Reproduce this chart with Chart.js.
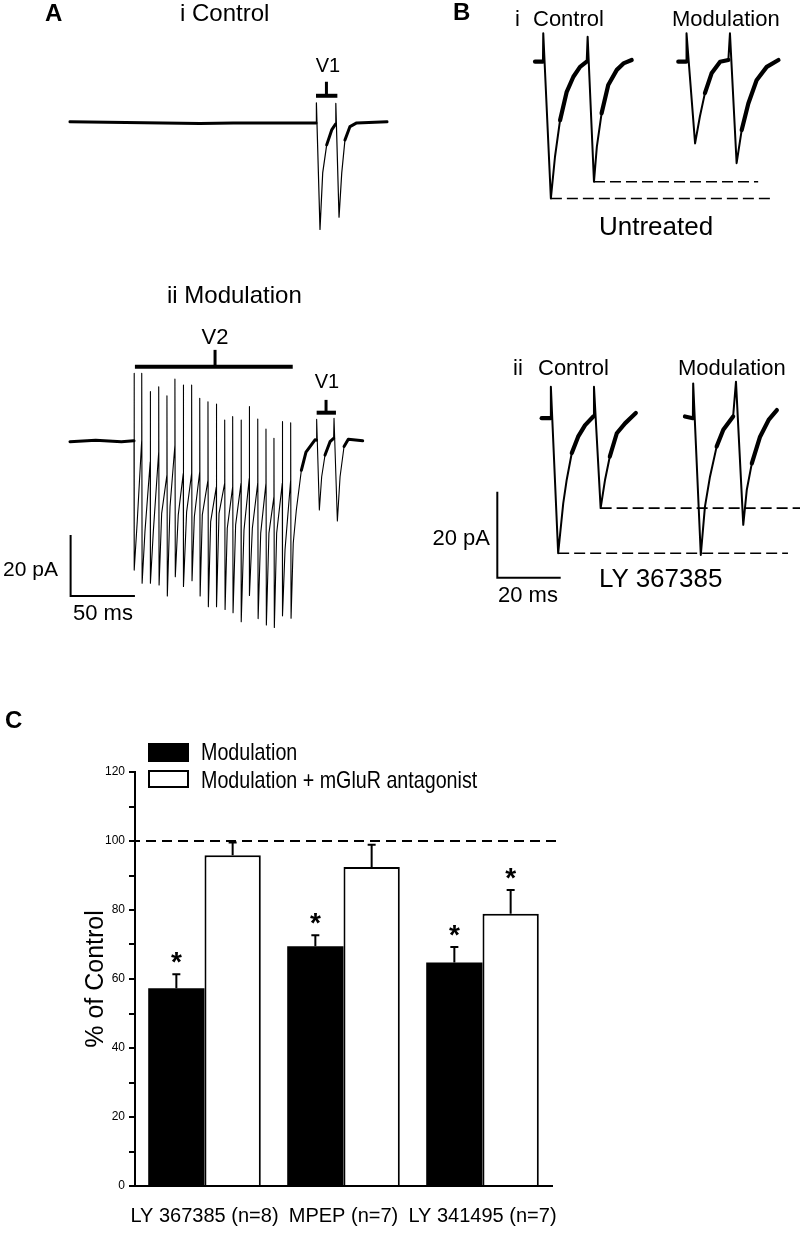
<!DOCTYPE html>
<html>
<head>
<meta charset="utf-8">
<script src="https://cdn.jsdelivr.net/npm/chart.js@4.4.1/dist/chart.umd.min.js"></script>
<style>
  html, body { margin: 0; padding: 0; background: #fff; }
  #fig { position: relative; width: 800px; height: 1233px; overflow: hidden; font-family: "Liberation Sans", Arial, sans-serif; color: #000; }
  #fig canvas { position: absolute; }
  .t { position: absolute; white-space: nowrap; line-height: 1; }
  .box { position: absolute; box-sizing: border-box; }
</style>
</head>
<body>
<div id="fig">
  <canvas id="chartA" width="400" height="650" style="left:0;top:0"></canvas>
  <canvas id="chartB" width="400" height="650" style="left:400px;top:0"></canvas>
  <canvas id="chartC" width="800" height="543" style="left:0;top:690px"></canvas>
  <div class="box" style="left:148px;top:743px;width:41px;height:19px;background:#000"></div>
  <div class="box" style="left:148px;top:770px;width:41px;height:18px;border:2px solid #000;background:#fff"></div>
</div>
<script>
// ---------- Panel A (ms, pA) ----------
// A i: control, two V1 stimuli
const aiTime    = [0, 101, 127, 179, 191.3, 191.6, 194.4, 196.5, 199.6, 203.5, 206.5, 206.7, 209.2, 211.3, 213.8, 217.7, 222.9, 246.5];
const aiCurrent = [0.1, -0.5, -0.3, -0.3, -0.3, 6.3, -35.2, -16.7, -7.5, -2.6, -0.7, 6.1, -31.2, -16.7, -5.9, -1.5, -0.3, 0.1];

// A ii: V2 train followed by V1 pair
const a2PreTime    = [0, 20, 40, 49.5];
const a2PreCurrent = [0, 0.5, 0, 0.3];
const trainStim    = [49.8, 55.8, 62.4, 69.0, 75.4, 81.6, 88.1, 94.6, 100.9, 107.3, 113.8, 120.3, 126.5, 133.0, 139.4, 146.0, 152.4, 158.6, 165.1, 171.6];
const trainTop     = [22.4, 22.4, 16.4, 18.0, 15.0, 20.5, 18.6, 18.6, 14.2, 13.1, 12.3, 7.1, 8.2, 7.1, 11.5, 7.4, 4.1, 1.1, 6.6, 6.2];
const trainBottom  = [-42.1, -46.4, -46.4, -47.0, -50.6, -44.3, -47.5, -45.6, -50.6, -54.1, -54.1, -55.0, -56.1, -59.0, -50.4, -58.0, -60.1, -60.9, -57.1, -57.9];
const trainMinTime = [52.3, 58.3, 64.8, 71.3, 77.8, 84.2, 90.7, 96.7, 102.9, 109.4, 115.9, 122.3, 128.8, 135.3, 141.8, 148.3, 154.7, 160.7, 167.2, 173.6];
const trainMin     = [-26.2, -29.5, -29.5, -23.5, -21.3, -24.0, -23.0, -24.6, -24.0, -26.2, -23.5, -28.4, -27.3, -29.0, -28.4, -30.0, -30.0, -30.0, -35.5, -33.3];
const trainPeak    = [0.6, -6.6, -3.3, -10.9, -1.1, -10.4, -10.4, -9.8, -12.6, -14.8, -13.6, -14.8, -13.6, -12.0, -13.6, -13.6, -18.0, -13.6, -12.6];
const a2PostTime    = [176.0, 179.9, 183.5, 190.5, 191.7, 191.8, 193.9, 195.7, 198.3, 202.2, 205.0, 205.3, 207.9, 210.0, 213.1, 216.4, 227.6];
const a2PostCurrent = [-22.4, -9.4, -3.4, 0.6, 0.5, 7.3, -22.4, -11.5, -4.4, 0, 1.1, 7.7, -26.0, -11.5, -1.6, 0.8, 0.3];

// ---------- Panel B (ms, pA) ----------
const biCtrlTime    = [0, 2.5, 2.6, 5.0, 6.3, 7.9, 10.0, 12.1, 14.2, 16.3, 16.6, 18.6, 19.5, 21.0, 23.1, 25.8, 27.9, 30.5];
const biCtrlCurrent = [0, 0, 6.6, -31.8, -22.1, -13.6, -7.0, -3.5, -1.2, 0, 5.8, -27.9, -19.8, -12.0, -5.4, -1.9, -0.4, 0.4];
const biModTime     = [0, 2.5, 2.6, 5.3, 6.8, 8.4, 10.5, 13.2, 15.8, 16.3, 18.4, 20.0, 22.1, 24.7, 27.9, 31.6];
const biModCurrent  = [0, 0, 6.6, -19.0, -12.8, -7.3, -2.7, 0, 0.4, 6.6, -23.6, -15.9, -9.7, -4.3, -1.2, 0.4];
const biiCtrlTime    = [0, 2.8, 2.9, 5.2, 6.8, 7.9, 9.5, 11.5, 13.7, 16.3, 16.5, 18.6, 20.0, 21.5, 23.7, 26.3, 29.7];
const biiCtrlCurrent = [0, 0, 7.3, -31.4, -19.8, -14.3, -8.1, -4.3, -1.6, 0.4, 7.3, -20.9, -14.3, -8.9, -3.5, -1.2, 1.2];
const biiModTime     = [0, 2.5, 2.6, 5.0, 6.3, 7.9, 10.0, 12.1, 15.2, 16.1, 18.4, 19.5, 21.1, 23.7, 26.4, 29.0];
const biiModCurrent  = [0.4, 0, 8.1, -31.8, -20.6, -13.6, -6.6, -2.7, 0.4, 8.5, -24.8, -16.7, -10.5, -4.3, -0.4, 1.9];

// ---------- Panel C (% of control) ----------
const categories    = ['LY 367385 (n=8)', 'MPEP (n=7)', 'LY 341495 (n=7)'];
const modulation    = [57.3, 69.5, 64.8];
const modulationSem = [4.1, 3.2, 4.5];
const antagonist    = [95.9, 92.5, 78.9];
const antagonistSem = [3.7, 6.4, 6.9];
const modulationSig = [true, true, true];
const antagonistSig = [false, false, true];
const controlLevel  = 100;

// ---------- fonts ----------
function hasFont(name) {
  const c = document.createElement('canvas').getContext('2d');
  c.font = '40px monospace';
  const w0 = c.measureText('Modulation mGluR 367385').width;
  c.font = '40px "' + name + '", monospace';
  return c.measureText('Modulation mGluR 367385').width !== w0;
}
const haveNarrow = hasFont('Liberation Sans Narrow');
const narrowFamily = haveNarrow ? '"Liberation Sans Narrow"' : '"Liberation Sans"';
const nz = s => haveNarrow ? s : Math.round(s * 0.84);

Chart.defaults.color = '#000';
Chart.defaults.font.family = '"Liberation Sans", Arial, sans-serif';

// ---------- helpers ----------
const toPts = (time, cur, dt = 0, dI = 0) => time.map((t, i) => ({ x: t + dt, y: cur[i] + dI }));

function traceSet(points, thin, thick) {
  return {
    data: points, showLine: true, pointRadius: 0, tension: 0, clip: false,
    borderColor: '#000', borderWidth: thin, borderJoinStyle: 'round', borderCapStyle: 'round',
    segment: {
      borderWidth: c => {
        const dx = Math.abs(c.p1.x - c.p0.x), dy = Math.abs(c.p1.y - c.p0.y);
        return dy > 4.5 * dx ? thin : thick;
      }
    }
  };
}
function lineSet(points, width, dash) {
  return { data: points, showLine: true, pointRadius: 0, tension: 0, clip: false,
    borderColor: '#000', borderWidth: width, borderDash: dash || [], borderCapStyle: 'butt' };
}
function marker(from, to, level, tickAt, tickTop) {
  return [lineSet([{ x: from, y: level }, { x: to, y: level }], 4),
          lineSet([{ x: tickAt, y: level }, { x: tickAt, y: tickTop }], 3)];
}
function traceOptions(xmin, xmax, ymin, ymax) {
  return {
    responsive: false, devicePixelRatio: 1, animation: false,
    layout: { padding: 0 },
    plugins: { legend: { display: false }, tooltip: { enabled: false } },
    scales: {
      x: { type: 'linear', display: false, min: xmin, max: xmax },
      y: { type: 'linear', display: false, min: ymin, max: ymax }
    }
  };
}

// ---------- Panel A chart ----------
const A2_SHIFT = -104.8;
function buildA2() {
  const pts = toPts(a2PreTime, a2PreCurrent);
  trainStim.forEach((t, k) => {
    const pre = k === 0 ? a2PreCurrent[a2PreCurrent.length - 1] : trainPeak[k - 1];
    pts.push({ x: t, y: pre }, { x: t, y: trainTop[k] }, { x: t + 0.3, y: trainBottom[k] },
             { x: trainMinTime[k], y: trainMin[k] });
  });
  return pts.concat(toPts(a2PostTime, a2PostCurrent)).map(p => ({ x: p.x, y: p.y + A2_SHIFT }));
}

new Chart(document.getElementById('chartA'), {
  type: 'scatter',
  data: {
    datasets: [
      traceSet(toPts(aiTime, aiCurrent), 1.2, 3),
      traceSet(buildA2(), 1.1, 3),
      ...marker(191.3, 207.9, 8.6, 199.4, 13.2),
      ...marker(50.5, 173.2, 24.6 + A2_SHIFT, 112.8, 30.1 + A2_SHIFT),
      ...marker(191.8, 206.8, 9.5 + A2_SHIFT, 199.1, 13.7 + A2_SHIFT),
      // 50 ms / 20 pA scale bar
      lineSet([{ x: 0.5, y: -135.4 }, { x: 0.5, y: -155.4 }, { x: 50.5, y: -155.4 }], 2)
    ]
  },
  options: traceOptions(-54.4, 256.6, -173.1, 40.0)
});

// ---------- Panel B chart ----------
const BII_SHIFT = -82.9;
function eventMins(time, cur) {
  // split at the second stimulus artifact
  const art = cur.map((v, i) => i).filter(i => cur[i] > 4);
  const split = art[1];
  const first = Math.min(...cur.slice(0, split));
  const second = Math.min(...cur.slice(split));
  return [{ t: time[cur.indexOf(first)], v: first }, { t: time[split + cur.slice(split).indexOf(second)], v: second }];
}
const biMins = eventMins(biCtrlTime, biCtrlCurrent);
const biiMins = eventMins(biiCtrlTime, biiCtrlCurrent);

new Chart(document.getElementById('chartB'), {
  type: 'scatter',
  data: {
    datasets: [
      traceSet(toPts(biCtrlTime, biCtrlCurrent), 2, 4.2),
      traceSet(toPts(biModTime, biModCurrent, 45.2), 2, 4.2),
      traceSet(toPts(biiCtrlTime, biiCtrlCurrent, 2.1, BII_SHIFT), 2, 4.2),
      traceSet(toPts(biiModTime, biiModCurrent, 47.3, BII_SHIFT), 2, 4.2),
      lineSet([{ x: biMins[0].t, y: biMins[0].v }, { x: 74.1, y: biMins[0].v }], 1.6, [11, 5]),
      lineSet([{ x: biMins[1].t, y: biMins[1].v }, { x: 70.4, y: biMins[1].v }], 1.6, [11, 5]),
      lineSet([{ x: biiMins[0].t + 2.1, y: biiMins[0].v + BII_SHIFT }, { x: 79.8, y: biiMins[0].v + BII_SHIFT }], 1.6, [11, 5]),
      lineSet([{ x: biiMins[1].t + 2.1, y: biiMins[1].v + BII_SHIFT }, { x: 83.6, y: biiMins[1].v + BII_SHIFT }], 1.6, [11, 5]),
      // 20 ms / 20 pA scale bar
      lineSet([{ x: -11.9, y: -100 }, { x: -11.9, y: -120 }, { x: 8.1, y: -120 }], 2)
    ]
  },
  options: traceOptions(-42.6, 83.6, -136.8, 14.35)
});

// ---------- Panel C chart ----------
const barExtras = {
  id: 'barExtras',
  afterDatasetsDraw(chart) {
    const { ctx, chartArea, scales: { y } } = chart;
    ctx.save();
    ctx.strokeStyle = '#000';
    ctx.lineWidth = 2;
    ctx.setLineDash([10, 6]);
    const yc = y.getPixelForValue(controlLevel);
    ctx.beginPath();
    ctx.moveTo(chartArea.left - 5, yc);
    ctx.lineTo(chartArea.right + 5, yc);
    ctx.stroke();
    ctx.setLineDash([]);
    [[modulation, modulationSem, modulationSig], [antagonist, antagonistSem, antagonistSig]].forEach(([vals, sem, sig], di) => {
      chart.getDatasetMeta(di).data.forEach((bar, i) => {
        const top = y.getPixelForValue(vals[i] + sem[i]);
        ctx.beginPath();
        ctx.moveTo(bar.x, bar.y);
        ctx.lineTo(bar.x, top);
        ctx.moveTo(bar.x - 4, top);
        ctx.lineTo(bar.x + 4, top);
        ctx.stroke();
        if (sig[i]) {
          ctx.font = 'bold 28px "Liberation Sans", Arial, sans-serif';
          ctx.textAlign = 'center';
          ctx.textBaseline = 'alphabetic';
          ctx.fillStyle = '#000';
          ctx.fillText('*', bar.x, top - 3);
        }
      });
    });
    ctx.restore();
  }
};

new Chart(document.getElementById('chartC'), {
  type: 'bar',
  data: {
    labels: categories,
    datasets: [
      { label: 'Modulation', data: modulation, backgroundColor: '#000', borderColor: '#000', borderWidth: 0 },
      { label: 'Modulation + mGluR antagonist', data: antagonist, backgroundColor: '#fff', borderColor: '#000', borderWidth: 2 }
    ]
  },
  options: {
    responsive: false, devicePixelRatio: 1, animation: false,
    categoryPercentage: 0.81, barPercentage: 1,
    layout: { padding: { left: 0, right: 248, top: 82, bottom: 0 } },
    plugins: { legend: { display: false }, tooltip: { enabled: false } },
    scales: {
      x: {
        grid: { display: false, drawTicks: false },
        border: { display: true, color: '#000', width: 2 },
        ticks: { font: { family: narrowFamily, size: nz(24) }, padding: 18, maxRotation: 0, autoSkip: false },
        afterFit: s => { s.height = 47; }
      },
      y: {
        min: 0, max: 120,
        grid: { drawOnChartArea: false, color: '#000', lineWidth: 2, tickLength: 6 },
        border: { display: true, color: '#000', width: 2 },
        ticks: { stepSize: 10, autoSkip: false, padding: 4, font: { size: 12 },
                 callback: v => (v % 20 === 0 ? v : '') },
        title: { display: true, text: '% of Control', font: { size: 25 }, padding: { top: 81, bottom: 0 } },
        afterFit: s => { s.width = 135; }
      }
    }
  },
  plugins: [barExtras]
});

// ---------- text ----------
const fig = document.getElementById('fig');
function addText(text, x, yc, size, opt = {}) {
  const d = document.createElement('div');
  d.className = 't';
  d.textContent = text;
  d.style.fontSize = size + 'px';
  d.style.top = (yc - 0.49 * size) + 'px';
  if (opt.bold) d.style.fontWeight = 'bold';
  let tf = '';
  if (opt.narrow) {
    if (haveNarrow) d.style.fontFamily = '"Liberation Sans Narrow"';
    else tf = 'scaleX(0.82)';
  }
  if (opt.align === 'center') { d.style.left = x + 'px'; tf = 'translateX(-50%) ' + tf; d.style.transformOrigin = 'left center'; }
  else if (opt.align === 'right') { d.style.right = (800 - x) + 'px'; d.style.transformOrigin = 'right center'; }
  else { d.style.left = x + 'px'; d.style.transformOrigin = 'left center'; }
  if (tf) d.style.transform = tf;
  fig.appendChild(d);
}

addText('A', 45, 13, 24, { bold: true });
addText('i Control', 180, 13, 24);
addText('V1', 328, 65, 20, { align: 'center' });
addText('ii Modulation', 167, 295, 24);
addText('V2', 215, 337, 22, { align: 'center' });
addText('V1', 327, 381, 20, { align: 'center' });
addText('20 pA', 58, 568, 21, { align: 'right' });
addText('50 ms', 73, 613, 22);

addText('B', 453, 12, 24, { bold: true });
addText('i', 515, 19, 22);
addText('Control', 533, 19, 22);
addText('Modulation', 672, 19, 22);
addText('Untreated', 599, 226, 26);
addText('ii', 513, 368, 22);
addText('Control', 538, 368, 22);
addText('Modulation', 678, 368, 22);
addText('20 pA', 490, 538, 22, { align: 'right' });
addText('20 ms', 498, 595, 22);
addText('LY 367385', 599, 578, 26);

addText('C', 5, 720, 24, { bold: true });
addText('Modulation', 201, 752, 24, { narrow: true });
addText('Modulation + mGluR antagonist', 201, 780, 24, { narrow: true });
</script>
</body>
</html>
